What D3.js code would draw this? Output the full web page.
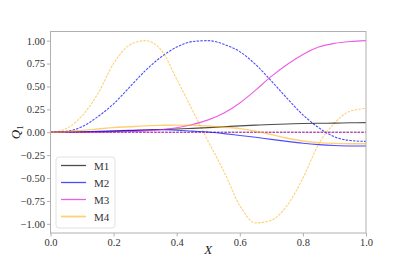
<!DOCTYPE html>
<html>
<head>
<meta charset="utf-8">
<script src="https://cdn.jsdelivr.net/npm/d3@7"></script>
<style>
  html, body { margin: 0; padding: 0; background: #fff; }
  svg { display: block; }
  svg text { font-family: "Liberation Serif", "DejaVu Serif", serif; }
</style>
</head>
<body>
<svg id="chart" width="407" height="262"></svg>
<script>
// sample positions along X
const xs = [0, 0.05, 0.1, 0.15, 0.2, 0.25, 0.3, 0.35, 0.4, 0.45, 0.5,
            0.55, 0.6, 0.65, 0.7, 0.75, 0.8, 0.85, 0.9, 0.95, 1.0];

// solid curves
const m1 = [0, 0.001, 0.003, 0.006, 0.01, 0.017, 0.025, 0.03, 0.035, 0.042, 0.05,
            0.06, 0.07, 0.078, 0.085, 0.09, 0.095, 0.098, 0.1, 0.103, 0.105];
const m2 = [0, 0.002, 0.005, 0.01, 0.015, 0.02, 0.025, 0.027, 0.022, 0.012, 0.003,
            -0.015, -0.035, -0.055, -0.078, -0.1, -0.12, -0.135, -0.145, -0.15, -0.15];
const m3 = [0, 0, 0, 0, 0.003, 0.008, 0.015, 0.028, 0.05, 0.085, 0.135,
            0.21, 0.32, 0.46, 0.61, 0.74, 0.85, 0.93, 0.97, 0.99, 1.0];
const m4 = [0, 0.006, 0.02, 0.035, 0.05, 0.06, 0.07, 0.075, 0.078, 0.075, 0.068,
            0.055, 0.04, 0.012, -0.025, -0.065, -0.095, -0.113, -0.122, -0.125, -0.125];

// dashed curves
const m1d = xs.map(() => 0);
const m2d = [0, 0.01, 0.06, 0.17, 0.31, 0.49, 0.67, 0.82, 0.93, 0.99, 1.0,
             0.96, 0.88, 0.74, 0.56, 0.37, 0.19, 0.05, -0.05, -0.09, -0.1];
const m3d = xs.map(() => 0);
const m4d = [0, 0.04, 0.18, 0.42, 0.75, 0.95, 1.0, 0.9, 0.58, 0.24, -0.1,
             -0.43, -0.8, -0.99, -0.96, -0.8, -0.5, -0.13, 0.1, 0.23, 0.26];

const xTicks = [0, 0.2, 0.4, 0.6, 0.8, 1.0];
const yTicks = [-1, -0.75, -0.5, -0.25, 0, 0.25, 0.5, 0.75, 1.0];
const names = ['M1', 'M2', 'M3', 'M4'];

const colors = { M1: 'rgba(0,0,0,0.7)', M2: 'rgba(0,0,255,0.7)', M3: 'rgba(230,40,220,0.75)', M4: 'rgba(255,170,0,0.55)' };

const svg = d3.select('#chart');
const x = d3.scaleLinear().domain([0, 1]).range([50.5, 366]);
const y = d3.scaleLinear().domain([-1.1, 1.1]).range([233, 31.5]);

const line = d3.line()
  .x((d, i) => x(xs[i]))
  .y(d => y(d))
  .curve(d3.curveMonotoneX);

const plot = svg.append('g');

// dashed series first, solid on top
const dashed = [['M1', m1d], ['M2', m2d], ['M4', m4d], ['M3', m3d]];
dashed.forEach(([k, vals]) => {
  plot.append('path').datum(vals)
    .attr('fill', 'none')
    .attr('stroke', colors[k])
    .attr('stroke-width', 1.1)
    .attr('stroke-dasharray', '2.5,1.2')
    .attr('d', line);
});

const solid = [['M1', m1], ['M2', m2], ['M3', m3], ['M4', m4]];
solid.forEach(([k, vals]) => {
  plot.append('path').datum(vals)
    .attr('fill', 'none')
    .attr('stroke', colors[k])
    .attr('stroke-width', k === 'M4' ? 1.4 : 1.1)
    .attr('d', line);
});

// frame
svg.append('rect')
  .attr('x', 50.5).attr('y', 31.5)
  .attr('width', 315.5).attr('height', 201.5)
  .attr('fill', 'none')
  .attr('stroke', '#b0b0b0')
  .attr('stroke-width', 1);

const fmtY = d => (d < 0 ? '\u2212' : '') + Math.abs(d).toFixed(2);

const xAxis = svg.append('g')
  .attr('transform', 'translate(0,233)')
  .call(d3.axisBottom(x).tickValues(xTicks).tickFormat(d3.format('.1f')).tickSize(3.5).tickPadding(2));
const yAxis = svg.append('g')
  .attr('transform', 'translate(50.5,0)')
  .call(d3.axisLeft(y).tickValues(yTicks).tickFormat(fmtY).tickSize(3.5).tickPadding(2));

[xAxis, yAxis].forEach(a => {
  a.attr('font-family', null);
  a.select('.domain').remove();
  a.selectAll('.tick line').attr('stroke', '#b0b0b0');
  a.selectAll('text')
    .attr('fill', '#333')
    .attr('font-size', '10.5px');
});

// axis labels
svg.append('text')
  .attr('x', x(0.5)).attr('y', 254)
  .attr('text-anchor', 'middle')
  .attr('font-size', '13px')
  .attr('font-style', 'italic')
  .attr('fill', '#222')
  .text('X');

const ylab = svg.append('text')
  .attr('transform', `translate(20,${y(0)}) rotate(-90)`)
  .attr('text-anchor', 'middle')
  .attr('font-size', '13px')
  .attr('font-style', 'italic')
  .attr('fill', '#222');
ylab.append('tspan').text('Q');
ylab.append('tspan').attr('font-size', '9px').attr('font-style', 'normal').attr('dy', 3).text('1');

// legend
const lg = svg.append('g').attr('transform', 'translate(56,157)');
lg.append('rect')
  .attr('width', 59).attr('height', 71).attr('rx', 3)
  .attr('fill', 'rgba(255,255,255,0.8)')
  .attr('stroke', '#e2e2e2');
names.forEach((n, i) => {
  const yy = 8.5 + i * 17;
  lg.append('line')
    .attr('x1', 5).attr('x2', 30).attr('y1', yy).attr('y2', yy)
    .attr('stroke', colors[n]).attr('stroke-width', n === 'M4' ? 1.8 : 1.3);
  lg.append('text')
    .attr('x', 38).attr('y', yy + 4)
    .attr('font-size', '11px')
    .attr('fill', '#333')
    .text(n);
});
</script>
</body>
</html>
